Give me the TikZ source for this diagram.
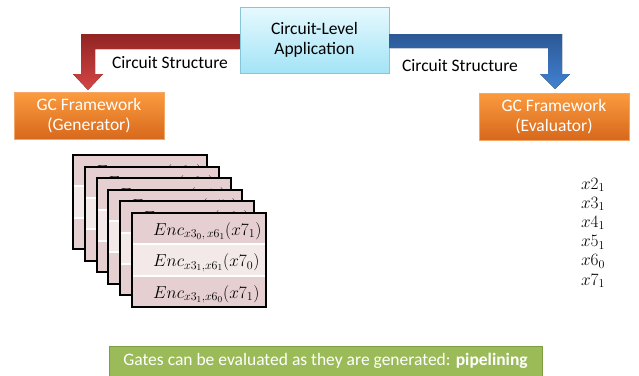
\documentclass[tikz,border=0pt]{standalone}
\usepackage{fontspec}
\setmainfont{Carlito}
\definecolor{appTop}{HTML}{E6F9FE}
\definecolor{appBot}{HTML}{A3E4F6}
\definecolor{appEdge}{HTML}{86C6D9}
\definecolor{orTop}{HTML}{FB9B3E}
\definecolor{orBot}{HTML}{D7681C}
\definecolor{orEdge}{HTML}{F2A766}
\definecolor{redTop}{HTML}{922424}
\definecolor{redBot}{HTML}{D44545}
\definecolor{bluTop}{HTML}{2C5895}
\definecolor{bluBot}{HTML}{4282D2}
\definecolor{rowDark}{HTML}{E6CFD1}
\definecolor{rowLight}{HTML}{F3E9E9}
\definecolor{grnFill}{HTML}{9BBB59}
\definecolor{grnEdge}{HTML}{7E9E42}
\begin{document}
\begin{tikzpicture}[x=1pt,y=-1pt,
  txt/.style={font=\fontsize{17.5}{20}\selectfont},
  appbox/.style={txt, draw=appEdge, line width=1pt, top color=appTop, bottom color=appBot,
    align=center, minimum width=149pt, minimum height=66pt, inner sep=0pt},
  gcbox/.style={txt, draw=orEdge, line width=0.8pt, top color=orTop, bottom color=orBot,
    text=white, align=center, minimum width=150pt, minimum height=47pt, inner sep=0pt},
  enctxt/.style={font=\fontsize{17.5}{20}\selectfont, anchor=base west, inner sep=0pt},
  mathlbl/.style={font=\fontsize{18}{20}\selectfont, anchor=base, inner sep=0pt},
]
\useasboundingbox (0,0) rectangle (639,375);

% application and the two frameworks
\node[appbox] (app) at (314.5,40) {Circuit-Level\\Application};
\node[gcbox] (gen) at (89,116) {GC Framework\\(Generator)};
\node[gcbox] (eval) at (554,116.5) {GC Framework\\(Evaluator)};

% block arrows carrying the circuit structure
\coordinate (redtip) at (88,90);
\coordinate (blutip) at (555,89);
\fill[top color=redTop, bottom color=redBot]
  (app.west |- 0,34) -- (81,34) -- (81,74) -- (73,74) -- (redtip) -- (103,74)
  -- (95,74) -- (95,49) -- (app.west |- 0,49) -- cycle;
\fill[top color=bluTop, bottom color=bluBot]
  (app.east |- 0,34) -- (562,34) -- (562,74) -- (570,74) -- (blutip) -- (540,74)
  -- (548,74) -- (548,48) -- (app.east |- 0,48) -- cycle;
\node[txt, anchor=base] (lblL) at (170,68) {Circuit Structure};
\node[txt, anchor=base] (lblR) at (460,71) {Circuit Structure};

% stack of garbled tables, one per gate; only the top row of the
% tables further back shows between the cards
\foreach \i/\ra in {1/{Enc_{x1_0,\,x1_1}(x2_1)},2/{Enc_{x1_0,\,x2_1}(x3_1)},
    3/{Enc_{x2_0,\,x3_1}(x4_1)},4/{Enc_{x3_0,\,x4_1}(x5_1)},
    5/{Enc_{x4_0,\,x5_1}(x6_1)},6/{Enc_{x3_0,\,x6_1}(x7_1)}} {
  \pgfmathsetmacro{\cx}{73+11.8*(\i-1)}
  \pgfmathsetmacro{\cy}{155+11.6*(\i-1)}
  \coordinate (c\i) at (\cx,\cy);
  \fill[rowDark] (c\i) rectangle ++(134,31.33);
  \fill[rowLight] ([yshift=-31.33pt]c\i) rectangle ++(134,31.33);
  \fill[rowDark] ([yshift=-62.67pt]c\i) rectangle ++(134,31.33);
  \draw[white, line width=2pt] ([yshift=-31.33pt]c\i) -- ++(134,0);
  \draw[white, line width=2pt] ([yshift=-62.67pt]c\i) -- ++(134,0);
  \draw[black, line width=2pt] (c\i) rectangle ++(134,94);
  \node[enctxt] (t\i a) at ([xshift=21pt,yshift=-22pt]c\i) {$\ra$};
}
\node[enctxt] (t6b) at ([xshift=21pt,yshift=-53.5pt]c6) {$Enc_{x3_1,x6_1}(x7_0)$};
\node[enctxt] (t6c) at ([xshift=21pt,yshift=-85pt]c6) {$Enc_{x3_1,x6_0}(x7_1)$};

% wire labels known to the evaluator
\foreach \k/\lab in {0/{x2_1},1/{x3_1},2/{x4_1},3/{x5_1},4/{x6_0},5/{x7_1}}
  \node[mathlbl] (w\k) at (593,189+19.2*\k) {$\lab$};

% bottom note
\node[txt, fill=grnFill, draw=grnEdge, line width=1pt, text=white, anchor=north,
  minimum width=433pt, minimum height=34pt, inner sep=0pt, text depth=12pt, text height=16pt]
  (note) at (325.5,346) {Gates can be evaluated as they are generated: \textbf{pipelining}};
\end{tikzpicture}
\end{document}
